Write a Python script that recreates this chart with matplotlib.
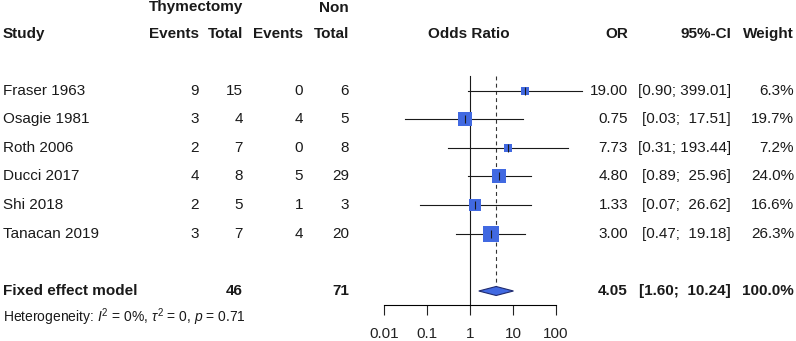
import matplotlib
matplotlib.use("Agg")
import matplotlib.pyplot as plt
from matplotlib.transforms import blended_transform_factory
from matplotlib.patches import Polygon

plt.rcParams['font.family'] = ['Liberation Sans', 'DejaVu Sans']
plt.rcParams['mathtext.fontset'] = 'custom'
plt.rcParams['mathtext.rm'] = 'Liberation Sans'
plt.rcParams['mathtext.it'] = 'Liberation Sans:italic'

# study data
studies = ["Fraser 1963", "Osagie 1981", "Roth 2006", "Ducci 2017", "Shi 2018", "Tanacan 2019"]
thy_events = [9, 3, 2, 4, 2, 3]
thy_total = [15, 4, 7, 8, 5, 7]
non_events = [0, 4, 0, 5, 1, 4]
non_total = [6, 5, 8, 29, 3, 20]
odds = [19.00, 0.75, 7.73, 4.80, 1.33, 3.00]
ci_low = [0.90, 0.03, 0.31, 0.89, 0.07, 0.47]
ci_high = [399.01, 17.51, 193.44, 25.96, 26.62, 19.18]
weights = [6.3, 19.7, 7.2, 24.0, 16.6, 26.3]

pooled_label = "Fixed effect model"
pooled_thy_total = 46
pooled_non_total = 71
pooled_or = 4.05
pooled_low = 1.60
pooled_high = 10.24
pooled_weight = 100.0
heterogeneity = r"Heterogeneity: $I^2$ = 0%, $\tau^2$ = 0, $p$ = 0.71"

xticks = [0.01, 0.1, 1, 10, 100]
xtick_labels = ["0.01", "0.1", "1", "10", "100"]

W, H = 796, 341
ROW0, ROWH = 90.5, 28.6  # pixel y of first study, row height


def row_of(py):
    return (py - ROW0) / ROWH


fig = plt.figure(figsize=(W / 100, H / 100), dpi=100)
ax = fig.add_axes([384 / W, 0, 172 / W, 1])
ax.set_xscale('log')
ax.set_xlim(0.01, 100)
ax.set_ylim(row_of(H), row_of(0))
ax.patch.set_visible(False)

for s in ['top', 'right', 'left']:
    ax.spines[s].set_visible(False)
axis_row = row_of(305)
ax.spines['bottom'].set_position(('data', axis_row))
ax.spines['bottom'].set_bounds(0.01, 100)
ax.spines['bottom'].set_linewidth(0.8)
ax.set_yticks([])
ax.set_xticks(xticks)
ax.set_xticklabels(xtick_labels)
ax.minorticks_off()
ax.tick_params(axis='x', direction='out', length=7, width=0.8, pad=9, labelsize=11, colors='#222222')

fs = 11
black = '#1a1a1a'
blue = '#4169e1'

# reference lines
top_row = row_of(76)
ax.plot([1, 1], [top_row, axis_row], color=black, lw=0.8)
dh = 4.5 / ROWH
n = len(studies)
pooled_row = row_of(291)
ax.plot([pooled_or, pooled_or], [top_row, pooled_row - dh], color='#333333', lw=0.8,
        linestyle=(0, (3.5, 3)))

# study estimates
for i in range(n):
    ax.plot([ci_low[i], ci_high[i]], [i, i], color=black, lw=0.8, clip_on=False, zorder=2)
    side = 2.95 * weights[i] ** 0.5 * 0.72
    ax.plot([odds[i]], [i], marker='s', ms=side, color=blue, mec=blue, mew=0, zorder=3, clip_on=False)
    ax.plot([odds[i]], [i], marker='|', ms=6, color=black, mew=0.8, zorder=4, clip_on=False)

# pooled diamond
diamond = Polygon([(pooled_low, pooled_row), (pooled_or, pooled_row - dh),
                   (pooled_high, pooled_row), (pooled_or, pooled_row + dh)],
                  closed=True, facecolor=blue, edgecolor='#1f2a6e', lw=0.8, zorder=3)
ax.add_patch(diamond)

tr = blended_transform_factory(fig.transFigure, ax.transData)


def put(px, row, s, ha='right', bold=False, size=fs):
    ax.text(px / W, row, s, transform=tr, ha=ha, va='center', fontsize=size,
            fontweight='bold' if bold else 'normal', color=black, clip_on=False)


# headers
r_top = row_of(7.5)
r_head = row_of(34)
put(243, r_top, "Thymectomy", bold=True)
put(349, r_top, "Non", bold=True)
put(3, r_head, "Study", ha='left', bold=True)
put(199, r_head, "Events", bold=True)
put(243, r_head, "Total", bold=True)
put(303, r_head, "Events", bold=True)
put(349, r_head, "Total", bold=True)
put(469, r_head, "Odds Ratio", ha='center', bold=True)
put(628, r_head, "OR", bold=True)
put(731, r_head, "95%-CI", bold=True)
put(794, r_head, "Weight", bold=True)

# study rows
for i in range(n):
    put(3, i, studies[i], ha='left')
    put(199, i, str(thy_events[i]))
    put(243, i, str(thy_total[i]))
    put(303, i, str(non_events[i]))
    put(349, i, str(non_total[i]))
    put(628, i, f"{odds[i]:.2f}")
    put(731, i, f"[{ci_low[i]:.2f}; {ci_high[i]:6.2f}]")
    put(794, i, f"{weights[i]:.1f}%")

# pooled row
put(3, pooled_row, pooled_label, ha='left', bold=True)
put(243, pooled_row, str(pooled_thy_total), bold=True)
put(349, pooled_row, str(pooled_non_total), bold=True)
put(628, pooled_row, f"{pooled_or:.2f}", bold=True)
put(731, pooled_row, f"[{pooled_low:.2f}; {pooled_high:6.2f}]", bold=True)
put(794, pooled_row, f"{pooled_weight:.1f}%", bold=True)

put(3, row_of(317), heterogeneity, ha='left', size=10)

fig.savefig("out.png", dpi=100, facecolor='white')
